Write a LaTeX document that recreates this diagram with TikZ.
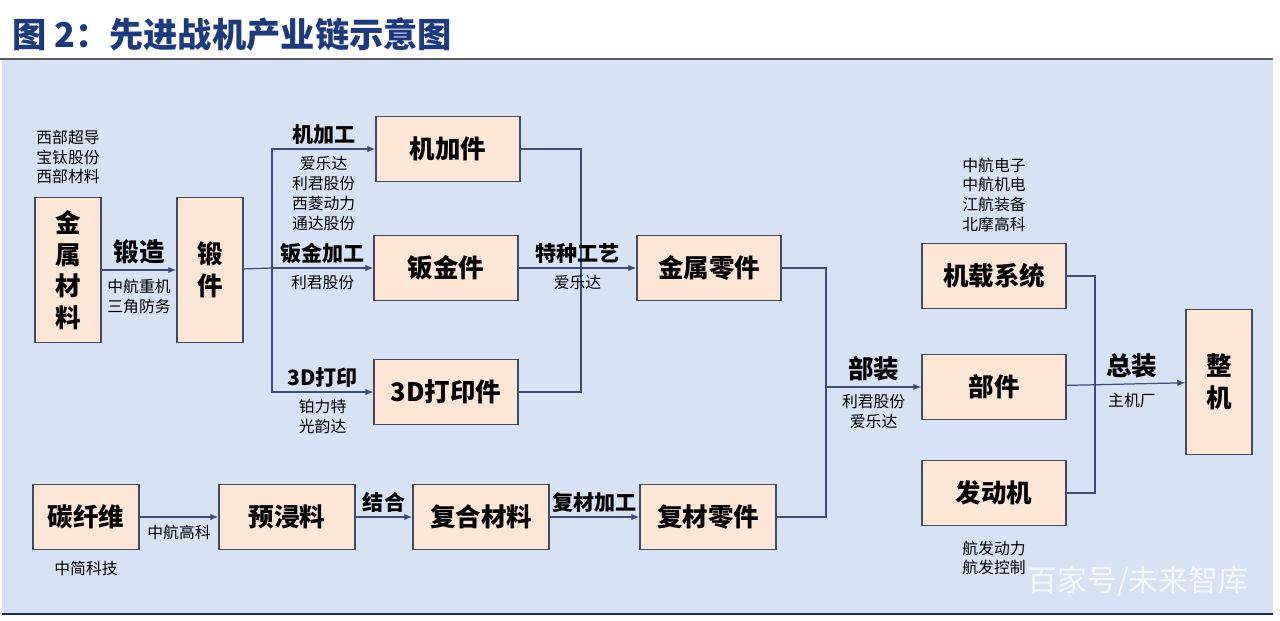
\documentclass[tikz,border=0pt]{standalone}
\usepackage{fontspec,xcolor,tikz}
\setmainfont{Noto Sans CJK SC}
\usetikzlibrary{arrows.meta,positioning}
\definecolor{panel}{RGB}{215,226,244}
\definecolor{peach}{RGB}{252,230,214}
\definecolor{frame}{RGB}{68,74,96}
\definecolor{wire}{RGB}{62,76,122}
\definecolor{navy}{RGB}{28,58,128}

\begin{document}
\begin{tikzpicture}[x=0.02cm,y=-0.02cm,>={Latex[length=1.6mm,width=1.3mm]},
  box/.style={draw=frame,line width=0.85pt,fill=peach,inner sep=0pt,
    font=\fontsize{14.5}{18}\selectfont\bfseries,align=center},
  wide/.style={box,minimum width=2.88cm,minimum height=1.3cm},
  tall/.style={box,minimum width=1.32cm,minimum height=2.9cm},
  short/.style={box,minimum width=2.72cm,minimum height=1.3cm},
  link/.style={draw=wire,line width=0.7pt},
  proc/.style={font=\fontsize{12}{13}\selectfont\bfseries,inner sep=2pt},
  big/.style={font=\fontsize{14.5}{16}\selectfont\bfseries,inner sep=2pt},
  firm/.style={font=\fontsize{9}{11.3}\selectfont,align=center,inner sep=2pt}]
\useasboundingbox (0,0) rectangle (1280,620);
\fill[white] (0,0) rectangle (1280,620);
\fill[panel] (2,60) rectangle (1273,613);
\draw[gray!70!black,line width=1.1pt] (0,59) -- (1273,59);
\draw[navy!80!black,line width=1.1pt] (2,614) -- (1273,614);
\node[anchor=west,text=navy,font=\fontsize{19.5}{20}\selectfont\bfseries] (title) at (6,34) {图 2：先进战机产业链示意图};
% metal branch
\node[tall] (jsc) at (68,270) {金\\属\\材\\料};
\node[tall] (dj) at (210,270) {锻\\件};
\node[wide] (jjj) at (448,149) {机加件};
\node[wide] (bjj) at (446,268) {钣金件};
\node[wide] (dyj) at (446,392) {3D打印件};
\node[wide] (jslj) at (709,268) {金属零件};
% composite branch
\node[box,minimum width=2.12cm,minimum height=1.3cm] (txw) at (86,517) {碳纤维};
\node[short] (yjl) at (287,517) {预浸料};
\node[short] (fhcl) at (481,517) {复合材料};
\node[short] (fclj) at (708,517) {复材零件};
% assembly
\node[wide] (jzxt) at (994,276) {机载系统};
\node[wide] (bj) at (994,387) {部件};
\node[wide] (fdj) at (994,493) {发动机};
\node[tall] (zj) at (1219,382) {整\\机};
\coordinate (fork) at (272,268);
\coordinate (merge) at (581,268);
\coordinate (sub) at (826,387);
\coordinate (fin) at (1095,387);
% suppliers
\node[firm,above=5pt of jsc] (s1) {西部超导\\宝钛股份\\西部材料};
\node[firm,above=4pt of jzxt] (s2) {中航电子\\中航机电\\江航装备\\北摩高科};
\node[firm,below=6pt of fdj] (s3) {航发动力\\航发控制};
\node[firm,below=4pt of txw] (s4) {中简科技};
% connectors
\draw[link,->] (jsc) -- (dj) node[midway,big,above=1pt] {锻造} node[midway,firm,below=3pt] {中航重机\\三角防务};
\draw[link] (dj) -- (fork);
\draw[link,->] (fork) |- (jjj) node[pos=0.75,proc,above] {机加工} node[pos=0.75,firm,below=2pt] {爱乐达\\利君股份\\西菱动力\\通达股份};
\draw[link,->] (fork) -- (bjj) node[midway,proc,above] {钣金加工} node[midway,firm,below=2pt] {利君股份};
\draw[link,->] (fork) |- (dyj) node[pos=0.75,proc,above] {3D打印} node[pos=0.75,firm,below=2pt] {铂力特\\光韵达};
\draw[link] (jjj) -| (merge);
\draw[link] (dyj) -| (merge);
\draw[link,->] (bjj) -- (jslj) node[midway,proc,above] {特种工艺} node[midway,firm,below=2pt] {爱乐达};
\draw[link,->] (txw) -- (yjl) node[midway,firm,below=2pt] {中航高科};
\draw[link,->] (yjl) -- (fhcl) node[midway,proc,above] {结合};
\draw[link,->] (fhcl) -- (fclj) node[midway,proc,above] {复材加工};
\draw[link] (jslj) -| (sub);
\draw[link] (fclj) -| (sub);
\draw[link,->] (sub) -- (bj) node[midway,big,above=1pt] {部装} node[midway,firm,below=2pt] {利君股份\\爱乐达};
\draw[link] (jzxt) -| (fin);
\draw[link] (fdj) -| (fin);
\draw[link,->] (bj) -- (zj) node[pos=0.55,big,above=1pt] {总装} node[pos=0.55,firm,below=3pt] {主机厂};
\node[text=white,opacity=0.75,font=\fontsize{17}{18}\selectfont] (mark) at (1138,582) {百家号/未来智库};
\end{tikzpicture}
\end{document}
